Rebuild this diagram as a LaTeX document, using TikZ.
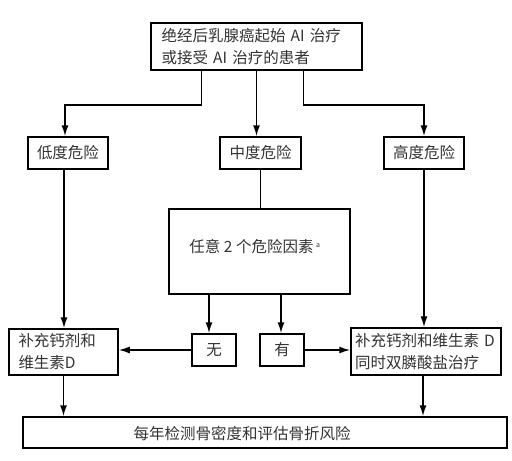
\documentclass[tikz,border=0pt]{standalone}
\usepackage{fontspec}
\setmainfont{Noto Sans CJK SC}
\usetikzlibrary{arrows.meta,calc}
\tikzset{
  box/.style={draw=black,line width=1.5pt,inner sep=0pt,font=\fontsize{15.5}{22}\selectfont,text=black!80},
  conn/.style={line width=1.5pt,draw=black},
  arr/.style={conn,-{Latex[length=11pt,width=7pt]}}
}
\begin{document}
\begin{tikzpicture}[x=1pt,y=-1pt]
\useasboundingbox[fill=white] (0,0) rectangle (512,461);
\node[box,minimum width=211pt,minimum height=47pt,text width=190pt,align=left] (top) at (256.5,46.5) {绝经后乳腺癌起始 AI 治疗\\或接受 AI 治疗的患者};
\node[box,minimum width=80pt,minimum height=32pt] (low) at (68,153) {低度危险};
\node[box,minimum width=81pt,minimum height=32pt] (mid) at (260.5,153) {中度危险};
\node[box,minimum width=80pt,minimum height=32pt] (high) at (424,153) {高度危险};
\node[box,minimum width=181pt,minimum height=85pt] (big) at (259.5,251.5) {};
\node[font=\fontsize{15.5}{22}\selectfont,text=black!80,inner sep=0pt] (bigtxt) at (255,247) {任意 2 个危险因素\,\textsuperscript{\fontsize{7}{8}\selectfont a}};
\node[box,minimum width=44pt,minimum height=32pt] (wu) at (214,350) {无};
\node[box,minimum width=44pt,minimum height=32pt] (you) at (282,350) {有};
\node[box,minimum width=109pt,minimum height=46pt,text width=90pt,align=left] (left) at (63.5,352) {补充钙剂和\\维生素D};
\node[box,minimum width=150pt,minimum height=47pt,text width=142pt,align=left] (right) at (426,351.5) {补充钙剂和维生素 D\\同时双膦酸盐治疗};
\node[box,minimum width=484pt,minimum height=31pt] (bottom) at (265,432.5) {};
\node[font=\fontsize{15.5}{22}\selectfont,text=black!80,inner sep=0pt] (bottxt) at (242,434) {每年检测骨密度和评估骨折风险};
% connectors
\coordinate (tla) at ($(top.south west)+(51,0)$);
\coordinate (tra) at ($(top.south west)+(153,0)$);
\draw[arr] (tla) -- ++(0,34) -| ([xshift=-3pt]low.north);
\draw[arr] (top.south) -- (top.south |- mid.north);
\draw[arr] (tra) -- ++(0,34) -| (high.north);
\draw[conn] (mid.south) -- (mid.south |- big.north);
\draw[arr] ([xshift=-4pt]low.south) -- ([xshift=-4pt]low.south |- left.north);
\draw[arr] (high.south) -- (high.south |- right.north);
\coordinate (wa) at ([xshift=-5pt]wu.north);
\draw[arr] (big.south -| wa) -- (wa);
\coordinate (ya) at ([xshift=-1pt]you.north);
\draw[arr] (big.south -| ya) -- (ya);
\draw[arr] (wu.west) -- (left.east |- wu.west);
\draw[arr] (you.east) -- (right.west |- you.east);
\draw[arr] (left.south) -- (left.south |- bottom.north);
\draw[arr] ([xshift=-3pt]right.south) -- ([xshift=-3pt]right.south |- bottom.north);
\end{tikzpicture}
\end{document}
